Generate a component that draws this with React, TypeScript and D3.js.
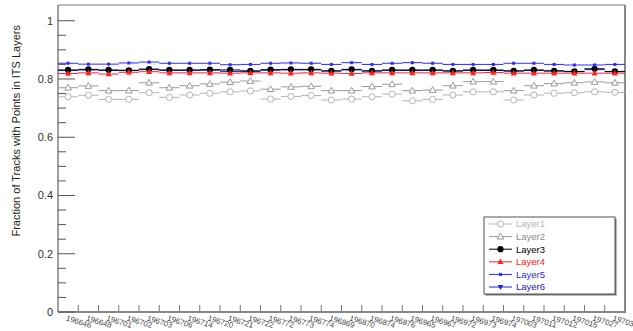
import React from "react";
import * as d3 from "d3";

const runs = ["196646","196648","196701","196702","196703","196706","196714","196720","196721","196722","196772","196773","196774","196869","196870","196874","196876","196965","196967","196972","196973","196974","197003","197011","197012","197015","197027","197031"];

const layer1 = [0.739,0.744,0.730,0.730,0.753,0.737,0.745,0.751,0.756,0.759,0.731,0.740,0.743,0.728,0.731,0.739,0.748,0.725,0.730,0.745,0.756,0.756,0.728,0.745,0.751,0.753,0.756,0.754];
const layer2 = [0.770,0.776,0.760,0.760,0.787,0.770,0.777,0.783,0.789,0.793,0.765,0.773,0.775,0.760,0.760,0.774,0.782,0.760,0.762,0.777,0.791,0.791,0.760,0.777,0.784,0.787,0.790,0.787];
const layer3 = [0.831,0.833,0.831,0.830,0.834,0.831,0.831,0.832,0.831,0.828,0.832,0.833,0.833,0.828,0.833,0.828,0.831,0.831,0.831,0.828,0.831,0.831,0.828,0.831,0.828,0.826,0.835,0.826];
const layer4 = [0.819,0.821,0.817,0.823,0.825,0.821,0.821,0.821,0.820,0.821,0.821,0.820,0.821,0.820,0.819,0.821,0.821,0.821,0.821,0.821,0.821,0.822,0.820,0.820,0.820,0.820,0.820,0.820];
const layer5 = [0.854,0.851,0.851,0.855,0.858,0.854,0.854,0.854,0.849,0.850,0.854,0.855,0.854,0.850,0.856,0.850,0.854,0.856,0.854,0.850,0.850,0.850,0.854,0.854,0.850,0.848,0.848,0.850];
const layer6 = [0.829,0.831,0.829,0.829,0.832,0.829,0.829,0.830,0.826,0.826,0.830,0.831,0.831,0.827,0.831,0.827,0.829,0.829,0.829,0.827,0.829,0.829,0.827,0.829,0.827,0.825,0.832,0.825];

const yTicks = [0, 0.2, 0.4, 0.6, 0.8, 1];
const yTickLabels = ["0", "0.2", "0.4", "0.6", "0.8", "1"];

type Series = { name: string; values: number[]; color: string; marker: string; text: string };
const series: Series[] = [
  { name: "Layer1", values: layer1, color: "#b4b4b4", marker: "opencircle", text: "#b4b4b4" },
  { name: "Layer2", values: layer2, color: "#9a9a9a", marker: "opentriangle", text: "#8c8c8c" },
  { name: "Layer6", values: layer6, color: "#2020d0", marker: "downtriangle", text: "#2020d0" },
  { name: "Layer3", values: layer3, color: "#000000", marker: "circle", text: "#000000" },
  { name: "Layer4", values: layer4, color: "#ff2020", marker: "triangle", text: "#ff2020" },
  { name: "Layer5", values: layer5, color: "#2a2aff", marker: "square", text: "#2a2aff" },
];
const legendOrder = ["Layer1", "Layer2", "Layer3", "Layer4", "Layer5", "Layer6"];

const L = 58, R = 625, T = 5, B = 312;
const FONT = "'Liberation Sans', Arial, Helvetica, sans-serif";

function Marker({ type, x, y, color }: { type: string; x: number; y: number; color: string }) {
  switch (type) {
    case "opencircle":
      return <circle cx={x} cy={y} r={3.1} fill="white" stroke={color} strokeWidth={1} />;
    case "opentriangle":
      return <path d={`M${x},${y - 3.4}L${x + 3.3},${y + 2.4}L${x - 3.3},${y + 2.4}Z`} fill="white" stroke={color} strokeWidth={1} />;
    case "circle":
      return <circle cx={x} cy={y} r={3.1} fill={color} />;
    case "triangle":
      return <path d={`M${x},${y - 3.2}L${x + 3},${y + 2.3}L${x - 3},${y + 2.3}Z`} fill={color} />;
    case "square":
      return <rect x={x - 1.5} y={y - 1.5} width={3} height={3} fill={color} />;
    case "downtriangle":
      return <path d={`M${x},${y + 3}L${x + 2.8},${y - 2.1}L${x - 2.8},${y - 2.1}Z`} fill={color} />;
    default:
      return null;
  }
}

export default function App() {
  const x = d3.scaleBand<string>().domain(runs).range([L, R]).paddingInner(0).paddingOuter(0);
  const y = d3.scaleLinear().domain([0, 1.054]).range([B, T]);
  const bw = x.bandwidth();
  const minor = d3.range(0, 1.0001, 0.05).filter((v) => !yTicks.some((t) => Math.abs(t - v) < 1e-6));

  const legX = 484, legY = 217, legW = 131, legH = 77;

  return (
    <svg width={633} height={331} style={{ position: "fixed", left: 0, top: 0, background: "white" }} fontFamily={FONT}>
      <rect x={0} y={0} width={633} height={331} fill="white" />
      {/* frame */}
      <line x1={L} y1={T} x2={R} y2={T} stroke="#777" strokeWidth={1} />
      <line x1={R} y1={T} x2={R} y2={B} stroke="#888" strokeWidth={2} />
      <line x1={L} y1={T} x2={L} y2={B} stroke="#444" strokeWidth={1} />
      <line x1={L} y1={B} x2={R + 1} y2={B} stroke="#888" strokeWidth={2} />

      {/* y ticks */}
      {yTicks.map((t, i) => (
        <g key={"yt" + i}>
          <line x1={L} x2={L + 17} y1={y(t)} y2={y(t)} stroke="#555" strokeWidth={1} />
          <text x={53} y={y(t)} dy="0.35em" textAnchor="end" fontSize={11} fill="#333">{yTickLabels[i]}</text>
        </g>
      ))}
      {minor.map((t, i) => (
        <line key={"ym" + i} x1={L} x2={L + 8} y1={y(t)} y2={y(t)} stroke="#555" strokeWidth={1} />
      ))}
      <text transform={`translate(20,25) rotate(-90)`} textAnchor="end" fontSize={11} fill="#222">
        Fraction of Tracks with Points in ITS Layers
      </text>

      {/* x ticks & labels */}
      {runs.map((r, i) => (
        <g key={"xt" + i}>
          {i > 0 && <line x1={x(r)!} x2={x(r)!} y1={B} y2={B - 7} stroke="#777" strokeWidth={1} />}
          <text transform={`translate(${x(r)! + bw / 2 - 1},${B + 3}) rotate(17)`} textAnchor="start" dominantBaseline="hanging" fontSize={7.8} fill="#444">{r}</text>
        </g>
      ))}

      {/* series: horizontal bin-width bars + markers */}
      {series.map((s) => (
        <g key={s.name}>
          {s.values.map((v, i) => {
            const x0 = x(runs[i])!;
            const yy = y(v);
            return <line key={i} x1={x0} x2={x0 + bw} y1={yy} y2={yy} stroke={s.color} strokeWidth={1} />;
          })}
          {s.values.map((v, i) => (
            <Marker key={"m" + i} type={s.marker} x={x(runs[i])! + bw / 2} y={y(v)} color={s.color} />
          ))}
        </g>
      ))}

      {/* legend */}
      <rect x={legX + 1.5} y={legY + 1.5} width={legW} height={legH} fill="#777" />
      <rect x={legX} y={legY} width={legW} height={legH} fill="white" stroke="#555" strokeWidth={1} />
      {legendOrder.map((name, i) => {
        const s = series.find((d) => d.name === name)!;
        const ly = 224 + i * 12.6;
        return (
          <g key={"lg" + name}>
            <line x1={489} x2={512} y1={ly} y2={ly} stroke={s.color} strokeWidth={1} />
            <Marker type={s.marker} x={500.5} y={ly} color={s.color} />
            <text x={516} y={ly} dy="0.35em" fontSize={9.5} fill={s.text}>{name}</text>
          </g>
        );
      })}
    </svg>
  );
}
